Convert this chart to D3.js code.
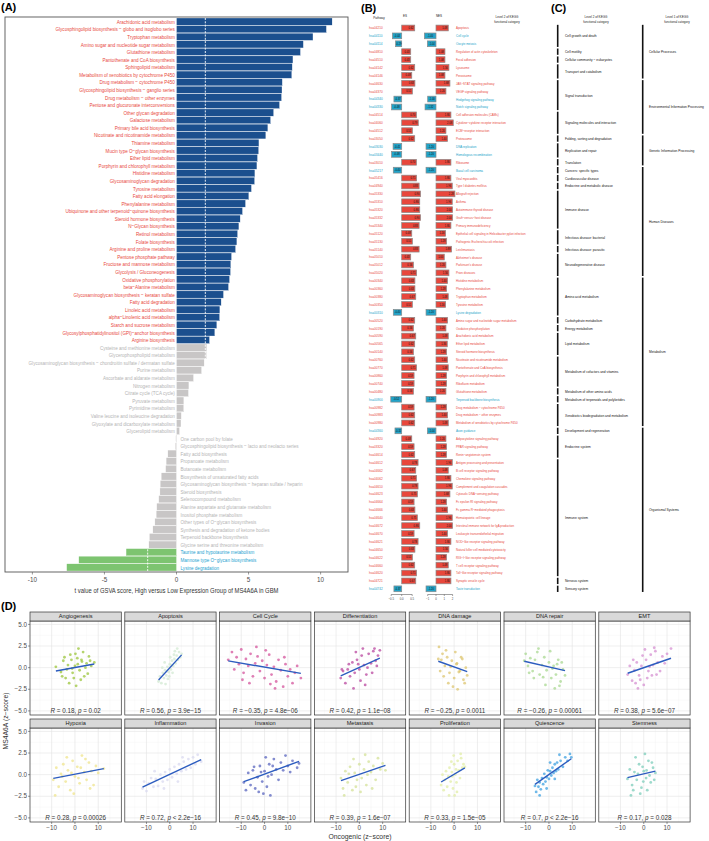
<!DOCTYPE html>
<html><head><meta charset="utf-8">
<script src="https://cdn.jsdelivr.net/npm/d3@7"></script>
<style>body{margin:0;background:#fff}svg{display:block}text{font-family:"Liberation Sans",Arial,sans-serif}</style>
</head><body><svg id="c" width="709" height="841"></svg>
<script>
// ---------------- Panel A data ----------------
const A_names = ["Arachidonic acid metabolism","Glycosphingolipid biosynthesis − globo and isoglobo series","Tryptophan metabolism","Amino sugar and nucleotide sugar metabolism","Glutathione metabolism","Pantothenate and CoA biosynthesis","Sphingolipid metabolism","Metabolism of xenobiotics by cytochrome P450","Drug metabolism − cytochrome P450","Glycosphingolipid biosynthesis − ganglio series","Drug metabolism − other enzymes","Pentose and glucuronate interconversions","Other glycan degradation","Galactose metabolism","Primary bile acid biosynthesis","Nicotinate and nicotinamide metabolism","Thiamine metabolism","Mucin type O−glycan biosynthesis","Ether lipid metabolism","Porphyrin and chlorophyll metabolism","Histidine metabolism","Glycosaminoglycan degradation","Tyrosine metabolism","Fatty acid elongation","Phenylalanine metabolism","Ubiquinone and other terpenoid−quinone biosynthesis","Steroid hormone biosynthesis","N−Glycan biosynthesis","Retinol metabolism","Folate biosynthesis","Arginine and proline metabolism","Pentose phosphate pathway","Fructose and mannose metabolism","Glycolysis / Gluconeogenesis","Oxidative phosphorylation","beta−Alanine metabolism","Glycosaminoglycan biosynthesis − keratan sulfate","Fatty acid degradation","Linoleic acid metabolism","alpha−Linolenic acid metabolism","Starch and sucrose metabolism","Glycosylphosphatidylinositol (GPI)−anchor biosynthesis","Arginine biosynthesis","Cysteine and methionine metabolism","Glycerophospholipid metabolism","Glycosaminoglycan biosynthesis − chondroitin sulfate / dermatan sulfate","Purine metabolism","Ascorbate and aldarate metabolism","Nitrogen metabolism","Citrate cycle (TCA cycle)","Pyruvate metabolism","Pyrimidine metabolism","Valine leucine and isoleucine degradation","Glyoxylate and dicarboxylate metabolism","Glycerolipid metabolism","One carbon pool by folate","Glycosphingolipid biosynthesis − lacto and neolacto series","Fatty acid biosynthesis","Propanoate metabolism","Butanoate metabolism","Biosynthesis of unsaturated fatty acids","Glycosaminoglycan biosynthesis − heparan sulfate / heparin","Steroid biosynthesis","Selenocompound metabolism","Alanine aspartate and glutamate metabolism","Inositol phosphate metabolism","Other types of O−glycan biosynthesis","Synthesis and degradation of ketone bodies","Terpenoid backbone biosynthesis","Glycine serine and threonine metabolism","Taurine and hypotaurine metabolism","Mannose type O−glycan biosynthesis","Lysine degradation"];
const A_values = [10.8,10.4,9.47,8.8,8.6,8.08,8.03,8.0,7.34,7.32,7.29,7.15,6.74,6.53,6.34,6.2,5.72,5.7,5.62,5.58,5.44,5.42,5.2,5.02,4.79,4.58,4.42,4.33,4.24,4.19,4.1,3.82,3.77,3.75,3.68,3.61,3.26,3.1,3.01,2.99,2.8,2.66,2.29,2.1,2.08,1.92,1.74,1.18,0.86,0.83,0.51,0.5,0.33,0.31,0.21,-0.05,-0.08,-0.6,-0.72,-0.75,-1.06,-1.13,-1.15,-1.23,-1.37,-1.41,-1.5,-1.64,-1.88,-1.92,-3.5,-6.78,-7.62];
// group per pathway: 43 up, 27 not significant, 3 down
const A_groups = [].concat(Array(43).fill("up"),Array(27).fill("ns"),Array(3).fill("down"));
const A_ticks = [-10,-5,0,5,10];
const A_cut = [-2,2];

// ---------------- Panel B/C data ----------------
const B_ids = ["hsa04210","hsa04110","hsa04114","hsa04810","hsa04510","hsa04142","hsa04146","hsa04630","hsa04370","hsa04340","hsa04330","hsa04514","hsa04060","hsa04512","hsa03050","hsa03030","hsa03440","hsa03010","hsa05217","hsa05416","hsa04940","hsa05330","hsa05310","hsa05320","hsa05332","hsa05340","hsa05120","hsa05130","hsa05140","hsa05010","hsa05012","hsa05020","hsa00340","hsa00360","hsa00380","hsa00350","hsa00310","hsa00520","hsa00190","hsa00590","hsa00565","hsa00140","hsa00760","hsa00770","hsa00860","hsa00740","hsa00480","hsa00900","hsa00982","hsa00983","hsa00980","hsa04360","hsa04920","hsa03320","hsa04614","hsa04612","hsa04662","hsa04062","hsa04610","hsa04623","hsa04664","hsa04666","hsa04640","hsa04672","hsa04670","hsa04621","hsa04650","hsa04622","hsa04660","hsa04620","hsa04721","hsa04742"];
const B_names = ["Apoptosis","Cell cycle","Oocyte meiosis","Regulation of actin cytoskeleton","Focal adhesion","Lysosome","Peroxisome","JAK−STAT signaling pathway","VEGF signaling pathway","Hedgehog signaling pathway","Notch signaling pathway","Cell adhesion molecules (CAMs)","Cytokine−cytokine receptor interaction","ECM−receptor interaction","Proteasome","DNA replication","Homologous recombination","Ribosome","Basal cell carcinoma","Viral myocarditis","Type I diabetes mellitus","Allograft rejection","Asthma","Autoimmune thyroid disease","Graft−versus−host disease","Primary immunodeficiency","Epithelial cell signaling in Helicobacter pylori infection","Pathogenic Escherichia coli infection","Leishmaniasis","Alzheimer's disease","Parkinson's disease","Prion diseases","Histidine metabolism","Phenylalanine metabolism","Tryptophan metabolism","Tyrosine metabolism","Lysine degradation","Amino sugar and nucleotide sugar metabolism","Oxidative phosphorylation","Arachidonic acid metabolism","Ether lipid metabolism","Steroid hormone biosynthesis","Nicotinate and nicotinamide metabolism","Pantothenate and CoA biosynthesis","Porphyrin and chlorophyll metabolism","Riboflavin metabolism","Glutathione metabolism","Terpenoid backbone biosynthesis","Drug metabolism − cytochrome P450","Drug metabolism − other enzymes","Metabolism of xenobiotics by cytochrome P450","Axon guidance","Adipocytokine signaling pathway","PPAR signaling pathway","Renin−angiotensin system","Antigen processing and presentation","B cell receptor signaling pathway","Chemokine signaling pathway","Complement and coagulation cascades","Cytosolic DNA−sensing pathway","Fc epsilon RI signaling pathway","Fc gamma R−mediated phagocytosis","Hematopoietic cell lineage","Intestinal immune network for IgA production","Leukocyte transendothelial migration","NOD−like receptor signaling pathway","Natural killer cell mediated cytotoxicity","RIG−I−like receptor signaling pathway","T cell receptor signaling pathway","Toll−like receptor signaling pathway","Synaptic vesicle cycle","Taste transduction"];
const B_es = [0.62,-0.44,-0.29,0.43,0.43,0.62,0.48,0.63,0.51,-0.37,-0.48,0.70,0.79,0.51,0.62,-0.41,-0.48,0.70,-0.40,0.71,0.83,0.90,0.86,0.86,0.90,0.83,0.48,0.51,0.83,0.43,0.56,0.71,0.63,0.63,0.67,0.51,-0.40,0.62,0.56,0.67,0.62,0.56,0.62,0.71,0.59,0.59,0.56,-0.52,0.59,0.62,0.62,-0.32,0.48,0.59,0.62,0.78,0.67,0.71,0.78,0.75,0.59,0.63,0.75,0.86,0.59,0.78,0.63,0.51,0.62,0.71,0.67,-0.37];
const B_nes = [1.48,-1.40,-1.04,1.08,1.08,1.56,1.08,1.68,1.20,-1.00,-1.32,1.80,2.08,1.20,1.40,-1.20,-1.20,1.80,-1.20,1.80,1.96,2.28,1.96,2.00,2.00,1.80,1.16,1.28,1.88,1.00,1.20,1.56,1.40,1.28,1.48,1.16,-1.20,1.40,1.20,1.48,1.36,1.28,1.40,1.48,1.28,1.28,1.20,-1.20,1.28,1.40,1.48,-1.04,1.20,1.28,1.28,1.96,1.48,1.80,1.96,1.68,1.28,1.40,1.96,2.00,1.40,1.80,1.56,1.28,1.48,1.80,1.80,-1.20];
const B_esTicks = [-0.5,0,0.5];
const B_nesTicks = [-1,0,1,2];
const C_level2 = ["Cell growth and death","Cell motility","Cellular community − eukaryotes","Transport and catabolism","Signal transduction","Signaling molecules and interaction","Folding, sorting and degradation","Replication and repair","Translation","Cancers: specific types","Cardiovascular disease","Endocrine and metabolic disease","Immune disease","Infectious disease: bacterial","Infectious disease: parasitic","Neurodegenerative disease","Amino acid metabolism","Carbohydrate metabolism","Energy metabolism","Lipid metabolism","Metabolism of cofactors and vitamins","Metabolism of other amino acids","Metabolism of terpenoids and polyketides","Xenobiotics biodegradation and metabolism","Development and regeneration","Endocrine system","Immune system","Nervous system","Sensory system"];
const C_level2Counts = [3,1,1,2,4,3,1,2,1,1,1,1,5,2,1,3,5,1,1,3,4,1,1,3,1,3,15,1,1];
const C_level1 = ["Cellular Processes","Environmental Information Processing","Genetic Information Processing","Human Diseases","Metabolism","Organismal Systems"];
const C_level1Counts = [7,7,4,14,19,21];

// ---------------- Panel D data ----------------
const D_names = ["Angiogenesis","Apoptosis","Cell Cycle","Differentiation","DNA damage","DNA repair","EMT","Hypoxia","Inflammation","Invasion","Metastasis","Proliferation","Quiescence","Stemness"];
const D_colors = ["#9cc63c","#d3ead3","#d4549c","#ba479f","#ddc670","#a9d891","#d690d1","#efe48c","#d9d9f0","#5966bf","#d4e298","#e2eda7","#3fa1e1","#7dcdbb"];
const D_R = ["0.18","0.56","−0.35","0.42","−0.25","−0.26","0.38","0.28","0.72","0.45","0.39","0.33","0.7","0.17"];
const D_p = ["= 0.02","= 3.9e−15","= 4.8e−06","= 1.1e−08","= 0.0011","= 0.00061","= 5.6e−07","= 0.00026","< 2.2e−16","= 9.8e−10","= 1.6e−07","= 1.5e−05","< 2.2e−16","= 0.028"];
const D_slope = [0.049,0.293,-0.046,0.122,-0.097,-0.062,0.0935,0.052,0.126,0.099,0.093,0.159,0.19,0.063];
const D_intercept = [0.02,-0.02,0.06,0.016,0.08,0.08,-0.005,0.05,0.04,0.07,0.04,0.04,0.02,0.09];
const D_xTicks = [-10,0,10];
const D_yTicks = [-5,-2.5,0,2.5,5];
const D_points = [
[-8.2,0.1,-6,-0.5,-5.5,-1.0,-5,0.8,-4.5,1.2,-4,-1.2,-3.5,-0.2,-3,0.3,-2.5,-1.8,-2,1.5,-1.5,0.9,-1.2,-0.1,-1,-0.6,-0.5,-1.2,0,0.2,0.2,1.6,0.5,-2.1,1,1.1,1.2,0.4,1.5,2.2,2,-0.3,2.5,-1.4,2.8,0.9,3,0.7,3.5,1.8,4,-1.0,4.5,0.0,5,0.5,5.5,-0.7,6,1.3,6.5,0.8,7,0.2,8.3,0.6],
[-4.8,-1.6,-4.2,-1.0,-3.6,-1.8,-3.2,0.0,-3,-0.6,-2.5,-1.2,-2.2,0.6,-2,-0.3,-1.8,-1.9,-1.5,-0.9,-1,0.1,-0.8,-1.3,-0.5,-0.5,-0.2,-1.0,0,0.4,0.2,1.2,0.5,-0.2,0.8,0.3,1,0.8,1.2,-0.6,1.5,0.2,1.8,1.5,2,1.0,2.2,1.9,2.5,0.5,3,1.4,3.2,2.2,3.5,0.9,4,1.8,4.5,1.2,5.1,1.6],
[-15.6,0.9,-14,1.8,-13,-0.2,-12,1.2,-11,0.4,-10,2.1,-9.5,-1.4,-9,-0.6,-8,1.0,-7,0.2,-6.5,-1.8,-6,1.6,-5,-1.0,-4,0.5,-3.5,2.4,-3,1.3,-2,-0.4,-1,0.8,0,-1.2,0.5,2.0,1,0.3,2,1.5,2.5,-1.9,3,-0.8,4,0.1,4.5,-2.4,5,-1.6,6,0.9,7,-0.3,8,-2.2,8.5,1.2,9,0.4,10,-1.0,11,-0.2,12,-1.8,13,-0.6,14,0.2,15.6,-1.2],
[-8,-1.2,-7.5,-0.2,-7,-0.4,-6,-1.8,-5,-0.2,-4.5,0.4,-4,-1.0,-3,0.6,-2.5,-2.4,-2,-0.6,-1.5,1.8,-1,0.9,-0.5,0.4,0,-0.2,0.5,-1.5,1,1.4,1.5,2.2,2,0.3,2.5,-2.0,3,-0.8,3.5,0.0,4,1.6,5,0.5,5.5,-0.6,6,1.9,6.5,2.2,7,0.8,7.5,0.2,8,1.4,8.8,2.0],
[-6.8,1.0,-6.5,2.4,-6,-0.4,-5.5,0.9,-5,1.6,-4.5,-1.0,-4,0.2,-3.5,2.0,-3,1.2,-2.5,-1.8,-2,-0.6,-1.5,0.1,-1,0.8,-0.5,-2.2,0,-1.2,0.5,1.8,1,0.4,1.2,0.5,1.5,-2.5,2,-0.5,2.5,-0.4,3,1.2,3.5,1.0,4,-1.4,4.5,-1.8,5,0.0,5.6,-0.9],
[-10.6,0.8,-10,1.6,-9,0.2,-8.5,-0.6,-8,1.1,-7,-0.4,-6.5,-1.2,-6,0.9,-5,1.8,-4.5,2.2,-4,-0.8,-3,0.3,-2.5,-1.1,-2,1.2,-1.5,-2.0,-1,-0.3,0,0.6,0.5,1.9,1,-1.2,1.5,-0.1,2,0.2,2.5,-2.4,3,-0.8,3.5,0.4,4,0.9,4.5,-2.1,5,-1.6,5.5,0.6,6,-0.2,6.9,-0.9],
[-6.9,-0.8,-6,0.2,-5,-1.5,-4.5,0.9,-4,-0.3,-3.5,-1.8,-3,0.6,-2.5,-2.4,-2,-0.9,-1.5,-1.4,-1,0.2,-0.5,1.4,0,-2.0,0.5,2.1,1,0.9,1.5,-1.2,2,-0.4,2.5,0.1,3,1.5,3.5,-0.9,4,0.3,4.5,2.3,5,1.9,5.5,-0.8,6,0.6,7,-0.4,8,1.3,9,0.5,10,1.6,11.7,2.2],
[-9.3,-0.6,-8.5,-2.4,-8,0.8,-7,-1.4,-6,0.1,-5.5,-0.2,-5,1.2,-4,-0.8,-3.5,2.0,-3,0.5,-2,-1.8,-1.5,0.2,-1,1.6,-0.5,-2.2,0,-0.2,1,0.9,1.5,-0.4,2,-1.0,2.5,0.8,3,2.2,4,0.3,4.5,1.8,5,-0.6,6,1.4,6.5,-1.6,7,0.4,8,-1.2,9,1.0,10,0.2,12.4,0.7],
[-11.7,-1.6,-11,-0.8,-10,-1.9,-9,-1.0,-8,-0.4,-7,-1.4,-6.5,0.4,-6,-0.5,-5,-1.3,-4,0.0,-3,-0.8,-2.5,-1.6,-2,0.3,-1,-0.6,0,0.6,1,-0.3,2,0.9,3,0.1,3.5,-0.8,4,1.2,5,0.4,5.5,2.0,6,1.5,7,0.6,8,1.8,9,0.8,10,2.0,11,1.2,12,2.3,13.5,1.5],
[-8.9,-0.9,-8,-1.8,-7,0.2,-6,-1.2,-5,0.5,-4.5,0.9,-4,-1.6,-3,-0.3,-2.5,-2.0,-2,1.0,-1.5,0.3,-1,-0.8,-0.5,-2.2,0,0.4,0.5,2.0,1,-1.4,1.5,-0.2,2,1.2,2.5,-2.4,3,0.0,3.5,1.0,4,1.8,5,0.6,6,-0.6,7,1.4,8,0.5,9,2.2,10,1.0,11,0.3,12,1.6,14,0.8,14.8,1.3],
[-7.9,-0.4,-7,-1.6,-6.5,-2.4,-6,0.4,-5,-0.9,-4.5,0.1,-4,0.9,-3,-1.8,-2.5,1.8,-2,0.2,-1.5,-1.4,-1,-0.6,0,1.2,0.5,-2.0,1,-0.4,2,0.6,2.5,2.3,3,-1.2,3.5,0.0,4,1.5,5,0.3,5.5,-1.6,6,1.0,7,-0.6,8,1.9,9,0.6,10,1.3,11.2,0.5],
[-5.6,-1.2,-5,0.0,-4.5,-1.8,-4,-0.6,-3.5,0.4,-3,-1.4,-2.5,-0.2,-2.2,-2.4,-2,0.8,-1.5,-0.8,-1.2,1.5,-1,0.3,-0.8,-0.2,-0.5,-1.6,-0.2,2.2,0,1.2,0.2,-2.4,0.5,0.0,0.8,0.6,1,-0.9,1.2,-2.0,1.5,1.6,2,0.5,2.5,-0.4,2.8,2.4,3,1.9,3.5,0.8,4,1.2,4.6,0.9],
[-6,-1.3,-5.5,-2.0,-5,-0.6,-4.5,-1.4,-4,-0.9,-4,-2.4,-3.5,-1.7,-3,-0.4,-2.5,-1.1,-2,0.1,-1.5,-0.8,-1,-0.3,-1,-1.6,-0.5,0.5,0,-0.5,0.5,0.4,0.5,1.4,1,-0.1,1.5,0.8,2,0.2,2.5,1.2,2.5,-0.5,3,0.4,3.5,1.4,4,0.6,4.5,2.3,5,1.6,6,0.9,7,2.0,8,1.6,9,2.4,9.6,2.0],
[-7,-0.5,-6,0.6,-5.5,-2.4,-5,-1.2,-4.5,-1.8,-4,0.3,-3.5,2.0,-3,-0.6,-2.5,0.1,-2,1.2,-1.5,-2.2,-1,-1.5,-0.5,0.9,-0.2,-0.8,0,0.4,0.5,2.4,1,-0.4,1.2,0.5,1.5,-1.8,2,1.6,2.5,-0.1,3,-0.9,3.5,1.4,4,0.8,4.5,-0.6,5,0.2]
];

// ================= drawing =================
const svg = d3.select("#c");
const RED = "#e8473c", CYAN = "#21a3c9";
function ntext(parent, x, y, str, size, sx, anchor, color, weight) {
  const g = parent.append("g").attr("transform", `translate(${x},${y}) scale(${sx},1)`);
  return g.append("text").attr("x", 0).attr("y", 0).attr("font-size", size)
    .attr("text-anchor", anchor || "start").attr("fill", color || "#000")
    .attr("font-weight", weight || "normal").attr("dy", "0.35em").text(str);
}
function panelLabel(x, y, s) {
  svg.append("text").attr("x", x).attr("y", y).attr("font-size", 11).attr("font-weight", "bold")
    .attr("font-family", "Liberation Sans, Arial").text(s);
}

// ---------- Panel A ----------
(function () {
  const g = svg.append("g");
  const x = d3.scaleLinear().domain([-11.9, 11.9]).range([5, 348]);
  const y = d3.scaleBand().domain(d3.range(A_names.length)).range([18, 571]).paddingInner(0.05);
  const barCol = { up: "#1b4f8e", ns: "#c8c6c6", down: "#7dc470" };
  const txtCol = { up: RED, ns: "#b4b4b4", down: "#1e9fd0" };
  g.selectAll("rect.bar").data(A_values).join("rect").attr("class", "bar")
    .attr("x", d => x(Math.min(0, d))).attr("width", d => Math.abs(x(d) - x(0)))
    .attr("y", (d, i) => y(i)).attr("height", y.bandwidth())
    .attr("fill", (d, i) => barCol[A_groups[i]]).attr("stroke", "#fff").attr("stroke-width", 0.3);
  A_cut.forEach(c => g.append("line").attr("x1", x(c)).attr("x2", x(c)).attr("y1", 18).attr("y2", 571)
    .attr("stroke", "#fff").attr("stroke-width", 0.9).attr("stroke-dasharray", "2,1.3"));
  A_values.forEach((v, i) => {
    const yy = y(i) + y.bandwidth() / 2;
    if (v >= 0) ntext(g, x(0) - 1.6, yy, A_names[i], 6.2, 0.74, "end", txtCol[A_groups[i]]);
    else ntext(g, x(0) + 4, yy, A_names[i], 6.2, 0.74, "start", txtCol[A_groups[i]]);
  });
  g.append("rect").attr("x", 5).attr("y", 17).attr("width", 343).attr("height", 555)
    .attr("fill", "none").attr("stroke", "#555").attr("stroke-width", 0.9);
  A_ticks.forEach(t => {
    g.append("line").attr("x1", x(t)).attr("x2", x(t)).attr("y1", 572).attr("y2", 574.5).attr("stroke", "#555").attr("stroke-width", 0.6);
    g.append("text").attr("x", x(t)).attr("y", 582).attr("font-size", 6.3).attr("text-anchor", "middle").attr("fill", "#4d4d4d").text(t);
  });
  ntext(g, x(0), 591, "t value of GSVA score, High versus Low Expression Group of MS4A6A in GBM", 6.9, 0.85, "middle", "#333");
  panelLabel(1, 11, "(A)");
})();

// ---------- Panel B ----------
(function () {
  const g = svg.append("g");
  const y = d3.scaleBand().domain(d3.range(B_ids.length)).range([25.1, 591.7]).paddingInner(0.27);
  const xes = d3.scaleLinear().domain([-1, 1]).range([380.7, 422.7]);
  const xnes = d3.scaleLinear().domain([-2, 3]).range([419.4, 460.9]);
  const col = v => v >= 0 ? RED : CYAN;
  function bars(vals, sc) {
    vals.forEach((v, i) => {
      const x0 = sc(Math.min(0, v)), w = Math.abs(sc(v) - sc(0));
      g.append("rect").attr("x", x0).attr("y", y(i)).attr("width", w).attr("height", y.bandwidth())
        .attr("fill", col(v)).attr("stroke", "#8a8a8a").attr("stroke-width", 0.7);
      const lx = v >= 0 ? sc(v) - 1.2 : (x0 + w / 2);
      ntext(g, lx, y(i) + y.bandwidth() / 2, v.toFixed(2), 3.2, 0.8, v >= 0 ? "end" : "middle", "#111");
    });
  }
  bars(B_es, xes);
  bars(B_nes, xnes);
  B_ids.forEach((id, i) => {
    const yy = y(i) + y.bandwidth() / 2;
    ntext(g, 369, yy, id, 3.9, 0.8, "start", col(B_es[i]));
    ntext(g, 456, yy, B_names[i], 4.1, 0.72, "start", col(B_es[i]));
  });
  ntext(g, 379, 18, "Pathway", 3.8, 0.8, "middle", "#222");
  ntext(g, 405, 16, "ES", 3.8, 0.8, "middle", "#222");
  ntext(g, 439, 16, "NES", 3.8, 0.8, "middle", "#222");
  ntext(g, 507, 17, "Level 2 of KEGG", 3.8, 0.8, "middle", "#222");
  ntext(g, 507, 22, "functional category", 3.8, 0.8, "middle", "#222");
  function axis(sc, ticks) {
    const ya = 594.5;
    g.append("line").attr("x1", sc(ticks[0])).attr("x2", sc(ticks[ticks.length - 1])).attr("y1", ya).attr("y2", ya).attr("stroke", "#444").attr("stroke-width", 0.5);
    ticks.forEach(t => {
      g.append("line").attr("x1", sc(t)).attr("x2", sc(t)).attr("y1", ya).attr("y2", ya + 1.5).attr("stroke", "#444").attr("stroke-width", 0.5);
      ntext(g, sc(t), ya + 4, d3.format(ticks.length > 3 ? "d" : ".1f")(t).replace("-", "−"), 3.3, 0.85, "middle", "#444");
    });
  }
  axis(xes, B_esTicks);
  axis(xnes, B_nesTicks);
  panelLabel(361, 12, "(B)");

  // ---------- Panel C ----------
  function groups(names, counts, lx, tx) {
    let start = 0;
    names.forEach((n, k) => {
      const end = start + counts[k] - 1;
      const top = y(start) - y.step() * 0.135 + 0.8, bot = y(end) + y.bandwidth() + y.step() * 0.135 - 0.8;
      g.append("line").attr("x1", lx).attr("x2", lx).attr("y1", top).attr("y2", bot).attr("stroke", "#111").attr("stroke-width", 1.6);
      ntext(g, tx, (top + bot) / 2, n, 4.3, 0.76, "start", "#111");
      start = end + 1;
    });
  }
  groups(C_level2, C_level2Counts, 557.7, 565);
  groups(C_level1, C_level1Counts, 642.7, 649);
  ntext(g, 596, 17, "Level 2 of KEGG", 3.8, 0.8, "middle", "#222");
  ntext(g, 596, 22, "functional category", 3.8, 0.8, "middle", "#222");
  ntext(g, 677, 17, "Level 1 of KEGG", 3.8, 0.8, "middle", "#222");
  ntext(g, 677, 22, "functional category", 3.8, 0.8, "middle", "#222");
  panelLabel(551, 12, "(C)");
})();

// ---------- Panel D ----------
(function () {
  const g = svg.append("g");
  const W = 91.3, H = 94, pitch = 94.8, left0 = 30;
  const rows = [{ strip: 612, top: 621 }, { strip: 719, top: 728 }];
  const x = d3.scaleLinear().domain([-19.3, 19.9]).range([0, W]);
  const y = d3.scaleLinear().domain([-5, 5]).range([89.9, 3.4]);
  D_names.forEach((name, k) => {
    const r = Math.floor(k / 7), c = k % 7;
    const px = left0 + c * pitch, row = rows[r];
    const p = g.append("g").attr("transform", `translate(${px},${row.top})`);
    // strip
    g.append("rect").attr("x", px).attr("y", row.strip).attr("width", W).attr("height", row.top - row.strip)
      .attr("fill", "#d9d9d9").attr("stroke", "#333").attr("stroke-width", 0.7);
    g.append("text").attr("x", px + W / 2).attr("y", row.strip + 6.3).attr("font-size", 5.6).attr("text-anchor", "middle").attr("fill", "#1a1a1a").text(name);
    p.append("rect").attr("width", W).attr("height", H).attr("fill", "#fff");
    // grid
    [-15, -5, 5, 15].forEach(t => p.append("line").attr("x1", x(t)).attr("x2", x(t)).attr("y1", 0).attr("y2", H).attr("stroke", "#f2f2f2").attr("stroke-width", 0.4));
    [-3.75, -1.25, 1.25, 3.75].forEach(t => p.append("line").attr("y1", y(t)).attr("y2", y(t)).attr("x1", 0).attr("x2", W).attr("stroke", "#f2f2f2").attr("stroke-width", 0.4));
    D_xTicks.forEach(t => p.append("line").attr("x1", x(t)).attr("x2", x(t)).attr("y1", 0).attr("y2", H).attr("stroke", "#e3e3e3").attr("stroke-width", 0.6));
    D_yTicks.forEach(t => p.append("line").attr("y1", y(t)).attr("y2", y(t)).attr("x1", 0).attr("x2", W).attr("stroke", "#e3e3e3").attr("stroke-width", 0.6));
    // points
    const pts = d3.range(D_points[k].length / 2).map(i => [D_points[k][2 * i], D_points[k][2 * i + 1]]);
    p.selectAll("circle").data(pts).join("circle").attr("cx", d => x(d[0])).attr("cy", d => y(d[1]))
      .attr("r", 1.4).attr("fill", D_colors[k]).attr("fill-opacity", 0.75);
    // fitted line
    const ext = d3.extent(pts, d => d[0]);
    p.append("line").attr("x1", x(ext[0])).attr("x2", x(ext[1]))
      .attr("y1", y(D_intercept[k] + D_slope[k] * ext[0])).attr("y2", y(D_intercept[k] + D_slope[k] * ext[1]))
      .attr("stroke", "#2c5cbf").attr("stroke-width", 1.4);
    // stat label
    const t = p.append("text").attr("x", W / 2).attr("y", y(-5)).attr("dy", "0.35em").attr("font-size", 6.3).attr("text-anchor", "middle").attr("fill", "#333");
    t.append("tspan").attr("font-style", "italic").text("R");
    t.append("tspan").text(" = " + D_R[k] + ", ");
    t.append("tspan").attr("font-style", "italic").text("p");
    t.append("tspan").text(" " + D_p[k]);
    p.append("rect").attr("width", W).attr("height", H).attr("fill", "none").attr("stroke", "#333").attr("stroke-width", 0.7);
    if (c === 0) {
      D_yTicks.forEach(tk => {
        g.append("line").attr("x1", px - 2).attr("x2", px).attr("y1", row.top + y(tk)).attr("y2", row.top + y(tk)).attr("stroke", "#333").attr("stroke-width", 0.5);
        g.append("text").attr("x", px - 3).attr("y", row.top + y(tk)).attr("dy", "0.35em").attr("font-size", 6.3).attr("text-anchor", "end").attr("fill", "#4d4d4d").text(d3.format(".1f")(tk).replace("-", "−"));
      });
    }
    if (r === 1) {
      D_xTicks.forEach(tk => {
        g.append("line").attr("x1", px + x(tk)).attr("x2", px + x(tk)).attr("y1", row.top + H).attr("y2", row.top + H + 2).attr("stroke", "#333").attr("stroke-width", 0.5);
        g.append("text").attr("x", px + x(tk)).attr("y", row.top + H + 8).attr("font-size", 6.3).attr("text-anchor", "middle").attr("fill", "#4d4d4d").text(String(tk).replace("-", "−"));
      });
    }
  });
  g.append("text").attr("x", 360).attr("y", 838.5).attr("font-size", 6.8).attr("text-anchor", "middle").attr("fill", "#333").text("Oncogenic (z−score)");
  g.append("text").attr("transform", "translate(8,721) rotate(-90)").attr("font-size", 6.8).attr("text-anchor", "middle").attr("fill", "#333").text("MS4A6A (z−score)");
  panelLabel(1, 610, "(D)");
})();
</script></body></html>
